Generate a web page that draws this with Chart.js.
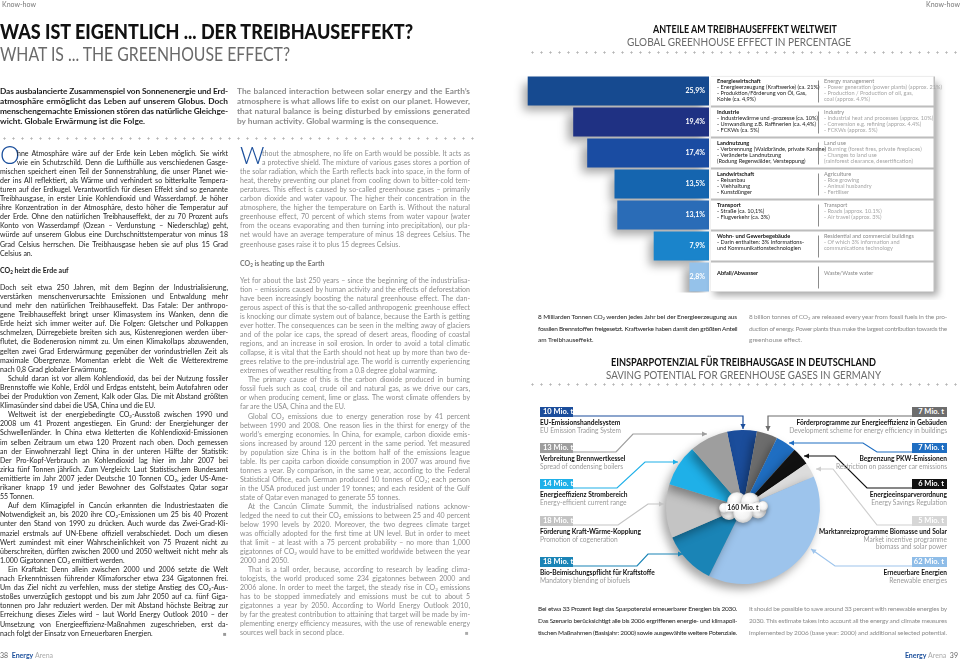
<!DOCTYPE html>
<html lang="de"><head><meta charset="utf-8">
<script src="https://cdn.jsdelivr.net/npm/chart.js@4.4.1/dist/chart.umd.min.js"></script>
<style>
html,body{margin:0;padding:0}
body{width:960px;height:662px;position:relative;overflow:hidden;background:#fff;font-family:Lato,"Noto Sans",sans-serif;color:#1a1a1a}
.a{position:absolute;white-space:nowrap}
.ln{font-size:7px;line-height:9px}
.de{color:#1e1e1e}
.en{color:#8c8c8c}
sub{font-size:65%;vertical-align:-1px;line-height:0}
.dots{position:absolute;height:3px;background-image:radial-gradient(circle,#b4b4b4 0.9px,transparent 1.2px);background-size:9px 3px}
canvas{position:absolute}
svg{position:absolute;left:0;top:0}
</style></head><body>
<canvas id="bars" width="480" height="230" style="left:480px;top:70px"></canvas>
<canvas id="pie" width="200" height="200" style="left:643px;top:407px"></canvas>
<svg id="lines" width="960" height="662"></svg>
<script>
// ---------- DATA ----------
const sectors = ['Energiewirtschaft','Industrie','Landnutzung','Landwirtschaft','Transport','Wohn- und Gewerbegebäude','Abfall/Abwasser'];
const sectorsEN = ['Energy management','Industry','Land use','Agriculture','Transport','Residential and commercial buildings','Waste/Waste water'];
const shares = [25.9, 19.4, 17.4, 13.5, 13.1, 7.9, 2.8];
const shareLabels = ['25,9%','19,4%','17,4%','13,5%','13,1%','7,9%','2,8%'];
const detailsDE = [
  ['- Energieerzeugung (Kraftwerke) (ca. 21%)','- Produktion/Förderung von Öl, Gas,','Kohle (ca. 4,9%)'],
  ['- Industriewärme und -prozesse (ca. 10%)','- Umwandlung z.B. Raffinerien (ca. 4,4%)','- FCKWs (ca. 5%)'],
  ['- Verbrennung (Waldbrände, private Kamine)','- Veränderte Landnutzung','(Rodung Regenwälder, Versteppung)'],
  ['- Reisanbau','- Viehhaltung','- Kunstdünger'],
  ['- Straße (ca. 10,1%)','- Flugverkehr (ca. 3%)'],
  ['- Darin enthalten: 3% Informations-','und Kommunikationstechnologien'],
  []
];
const detailsEN = [
  ['- Power generation (power plants) (approx. 21%)','- Production / Production of oil, gas,','coal (approx. 4.9%)'],
  ['- Industrial heat and processes (approx. 10%)','- Conversion e.g. refining (approx. 4.4%)','- FCKWs (approx. 5%)'],
  ['- Burning (forest fires, private fireplaces)','- Changes to land use','(rainforest clearance, desertification)'],
  ['- Rice growing','- Animal husbandry','- Fertiliser'],
  ['- Roads (approx. 10.1%)','- Air travel (approx. 3%)'],
  ['- Of which 3% information and','communications technology'],
  []
];
const barColors = ['#164a90','#1f3183','#1a4ca2','#1565af','#2a6cb7','#1a84cb','#95c2ea'];

const measures = ['EU-Emissionshandelsystem','Förderprogramme zur Energieeffizienz in Gebäuden','Begrenzung PKW-Emissionen','Energieeinsparverordnung','Marktanreizprogramme Biomasse und Solar','Erneuerbare Energien','Bio-Beimischungspflicht für Kraftstoffe','Förderung Kraft-Wärme-Kopplung','Energieeffizienz Strombereich','Verbreitung Brennwertkessel'];
const measuresEN = [['EU Emission Trading System'],['Development scheme for energy efficiency in buildings'],['Restriction on passenger car emissions'],['Energy Savings Regulation'],['Market incentive programme','biomass and solar power'],['Renewable energies'],['Mandatory blending of biofuels'],['Promotion of cogeneration'],['Energy-efficient current range'],['Spread of condensing boilers']];
const savings = [10, 7, 7, 6, 5, 62, 18, 18, 14, 13];
const savingLabels = ['10 Mio. t','7 Mio. t','7 Mio. t','6 Mio. t','5 Mio. t','62 Mio. t','18 Mio. t','18 Mio. t','14 Mio. t','13 Mio. t'];
const pieColors = ['#1b4d9b','#6d6d6d','#1f6ec2','#111111','#dcdcdc','#9dc4ec','#1a84b6','#c4c4c4','#1fb0e8','#9e9e9e'];
const totalLabel = '160 Mio. t';

// ---------- LAYOUT (callouts) ----------
const callouts = [
  {i:0, side:'L', top:407, path:[[540,416],[743,416],[743,429]]},
  {i:9, side:'L', top:443, path:[[540,452],[616,452],[633,434],[707,434]]},
  {i:8, side:'L', top:479, path:[[540,488],[617,488],[645,462],[678,462]]},
  {i:7, side:'L', top:516, path:[[540,525],[618,525],[648,504],[664,504]]},
  {i:6, side:'L', top:557, path:[[540,566],[637,566],[648,554],[683,554]]},
  {i:1, side:'R', top:407, path:[[947,416],[768,416],[768,431]]},
  {i:2, side:'R', top:443, path:[[947,452],[877,452],[863,443],[789,443]]},
  {i:3, side:'R', top:479, path:[[947,488],[867,488],[835,456],[804,456]]},
  {i:4, side:'R', top:516, path:[[947,525],[877,525],[833,469],[816,469]]},
  {i:5, side:'R', top:557, path:[[947,566],[835,566],[811,549]]}
];

// ---------- helpers ----------
function el(x,y,html,cls,style){const d=document.createElement('div');d.className='a '+(cls||'');d.innerHTML=html;d.style.left=x+'px';d.style.top=y+'px';if(style)Object.assign(d.style,style);document.body.appendChild(d);return d;}
function fit(d,W,justify){const w=d.getBoundingClientRect().width;const t=d.textContent;if(w>W){d.style.letterSpacing=((W-w)/t.length)+'px';}else if(justify){const n=(t.match(/ /g)||[]).length;if(n)d.style.wordSpacing=((W-w)/n)+'px';}}
function fitScale(d,W){const w=d.getBoundingClientRect().width;d.style.transformOrigin='0 0';d.style.transform='scaleX('+(W/w)+')';}
function para(x,top,W,lines,cls,LH,opt){opt=opt||{};lines.forEach((t,i)=>{let ind=0;if(i===0&&opt.indent)ind=opt.indent;if(opt.cap&&i<2)ind=opt.cap;const d=el(x+ind,top+i*LH,t,'ln '+cls,{lineHeight:LH+'px'});if(opt.fs)d.style.fontSize=opt.fs+'px';if(opt.bold)d.style.fontWeight='700';fit(d,W-ind,i<lines.length-1||opt.justLast);});return top+lines.length*LH;}
function dots(x,y,w){const d=document.createElement('div');d.className='dots';d.style.left=x+'px';d.style.top=y+'px';d.style.width=w+'px';document.body.appendChild(d);}

function build(){
// header
el(2,0,'Know-how','',{fontSize:'7px',color:'#777',lineHeight:'9px'});
el(926,0,'Know-how','',{fontSize:'7px',color:'#777',lineHeight:'9px'});
const t1=el(0,20,'WAS IST EIGENTLICH ... DER TREIBHAUSEFFEKT?','',{fontSize:'20px',fontWeight:'900',color:'#111',lineHeight:'22px'});fitScale(t1,413);
const t2=el(0,42,'WHAT IS ... THE GREENHOUSE EFFECT?','',{fontSize:'20px',fontWeight:'400',color:'#6a6a6a',lineHeight:'22px'});fitScale(t2,290);

// intro
para(0,86,228,['Das ausbalancierte Zusammenspiel von Sonnenenergie und Erd-','atmosphäre ermöglicht das Leben auf unserem Globus. Doch','menschengemachte Emissionen stören das natürliche Gleichge-','wicht. Globale Erwärmung ist die Folge.'],'de',10,{fs:8.3,bold:true});
para(237,86,233,['The balanced interaction between solar energy and the Earth\u2019s','atmosphere is what allows life to exist on our planet. However,','that natural balance is being disturbed by emissions generated','by human activity. Global warming is the consequence.'],'en',10,{fs:8.3,bold:true});
dots(0,137,474);

// left column
const LH=9.1;
el(0,142,'O','',{fontSize:'25px',color:'#1b4f9c',lineHeight:'25px',fontWeight:'300'});
let y=para(0,148.5,228,['Ohne Atmosphäre wäre auf der Erde kein Leben möglich. Sie wirkt'.slice(1),'wie ein Schutzschild. Denn die Lufthülle aus verschiedenen Gasge-','mischen speichert einen Teil der Sonnenstrahlung, die unser Planet wie-','der ins All reflektiert, als Wärme und verhindert so bitterkalte Tempera-','turen auf der Erdkugel. Verantwortlich für diesen Effekt sind so genannte','Treibhausgase, in erster Linie Kohlendioxid und Wasserdampf. Je höher','ihre Konzentration in der Atmosphäre, desto höher die Temperatur auf','der Erde. Ohne den natürlichen Treibhauseffekt, der zu 70 Prozent aufs','Konto von Wasserdampf (Ozean – Verdunstung – Niederschlag) geht,','würde auf unserem Globus eine Durchschnittstemperatur von minus 18','Grad Celsius herrschen. Die Treibhausgase heben sie auf plus 15 Grad','Celsius an.'],'de',LH,{cap:17});
el(0,y+8,'CO<sub>2</sub> heizt die Erde auf','ln de',{fontWeight:'700',lineHeight:LH+'px'});
y=y+8+LH+8;
y=para(0,y,228,['Doch seit etwa 250 Jahren, mit dem Beginn der Industrialisierung,','verstärken menschenverursachte Emissionen und Entwaldung mehr','und mehr den natürlichen Treibhauseffekt. Das Fatale: Der anthropo-','gene Treibhauseffekt bringt unser Klimasystem ins Wanken, denn die','Erde heizt sich immer weiter auf. Die Folgen: Gletscher und Polkappen','schmelzen, Dürregebiete breiten sich aus, Küstenregionen werden über-','flutet, die Bodenerosion nimmt zu. Um einen Klimakollaps abzuwenden,','gelten zwei Grad Erderwärmung gegenüber der vorindustriellen Zeit als','maximale Obergrenze. Momentan erlebt die Welt die Wetterextreme','nach 0,8 Grad globaler Erwärmung.'],'de',LH);
y=para(0,y,228,['Schuld daran ist vor allem Kohlendioxid, das bei der Nutzung fossiler','Brennstoffe wie Kohle, Erdöl und Erdgas entsteht, beim Autofahren oder','bei der Produktion von Zement, Kalk oder Glas. Die mit Abstand größten','Klimasünder sind dabei die USA, China und die EU.'],'de',LH,{indent:8});
y=para(0,y,228,['Weltweit ist der energiebedingte CO<sub>2</sub>-Ausstoß zwischen 1990 und','2008 um 41 Prozent angestiegen. Ein Grund: der Energiehunger der','Schwellenländer. In China etwa kletterten die Kohlendioxid-Emissionen','im selben Zeitraum um etwa 120 Prozent nach oben. Doch gemessen','an der Einwohnerzahl liegt China in der unteren Hälfte der Statistik:','Der Pro-Kopf-Verbrauch an Kohlendioxid lag hier im Jahr 2007 bei','zirka fünf Tonnen jährlich. Zum Vergleich: Laut Statistischem Bundesamt','emittierte im Jahr 2007 jeder Deutsche 10 Tonnen CO<sub>2</sub>, jeder US-Ame-','rikaner knapp 19 und jeder Bewohner des Golfstaates Qatar sogar','55 Tonnen.'],'de',LH,{indent:8});
y=para(0,y,228,['Auf dem Klimagipfel in Cancún erkannten die Industriestaaten die','Notwendigkeit an, bis 2020 ihre CO<sub>2</sub>-Emissionen um 25 bis 40 Prozent','unter den Stand von 1990 zu drücken. Auch wurde das Zwei-Grad-Kli-','maziel erstmals auf UN-Ebene offiziell verabschiedet. Doch um diesen','Wert zumindest mit einer Wahrscheinlichkeit von 75 Prozent nicht zu','überschreiten, dürften zwischen 2000 und 2050 weltweit nicht mehr als','1.000 Gigatonnen CO<sub>2</sub> emittiert werden.'],'de',LH,{indent:8});
y=para(0,y,228,['Ein Kraftakt: Denn allein zwischen 2000 und 2006 setzte die Welt','nach Erkenntnissen führender Klimaforscher etwa 234 Gigatonnen frei.','Um das Ziel nicht zu verfehlen, muss der stetige Anstieg des CO<sub>2</sub>-Aus-','stoßes unverzüglich gestoppt und bis zum Jahr 2050 auf ca. fünf Giga-','tonnen pro Jahr reduziert werden. Der mit Abstand höchste Beitrag zur','Erreichung dieses Zieles wird – laut World Energy Outlook 2010 – der','Umsetzung von Energieeffizienz-Maßnahmen zugeschrieben, erst da-','nach folgt der Einsatz von Erneuerbaren Energien.'],'de',LH,{indent:8});
el(223,y-LH,'\u25A0','ln',{color:'#999',fontSize:'6px',lineHeight:LH+'px'});

// middle column
el(240,143,'W','',{fontSize:'24px',color:'#1b4f9c',lineHeight:'24px',fontWeight:'300'});
y=para(240,148.5,230,['thout the atmosphere, no life on Earth would be possible. It acts as','a protective shield. The mixture of various gases stores a portion of','the solar radiation, which the Earth reflects back into space, in the form of','heat, thereby preventing our planet from cooling down to bitter-cold tem-','peratures. This effect is caused by so-called greenhouse gases – primarily','carbon dioxide and water vapour. The higher their concentration in the','atmosphere, the higher the temperature on Earth is. Without the natural','greenhouse effect, 70 percent of which stems from water vapour (water','from the oceans evaporating and then turning into precipitation), our pla-','net would have an average temperature of minus 18 degrees Celsius. The','greenhouse gases raise it to plus 15 degrees Celsius.'],'en',LH,{cap:22});
el(240,y+10,'CO<sub>2</sub> is heating up the Earth','ln en',{fontWeight:'700',lineHeight:LH+'px',color:'#777'});
y=y+10+LH+8.5;
const LH2=9.02;
y=para(240,y,230,['Yet for about the last 250 years – since the beginning of the industrialisa-','tion – emissions caused by human activity and the effects of deforestation','have been increasingly boosting the natural greenhouse effect. The dan-','gerous aspect of this is that the so-called anthropogenic greenhouse effect','is knocking our climate system out of balance, because the Earth is getting','ever hotter. The consequences can be seen in the melting away of glaciers','and of the polar ice caps, the spread of desert areas, flooding of coastal','regions, and an increase in soil erosion. In order to avoid a total climatic','collapse, it is vital that the Earth should not heat up by more than two de-','grees relative to the pre-industrial age. The world is currently experiencing','extremes of weather resulting from a 0.8 degree global warming.'],'en',LH2);
y=para(240,y,230,['The primary cause of this is the carbon dioxide produced in burning','fossil fuels such as coal, crude oil and natural gas, as we drive our cars,','or when producing cement, lime or glass. The worst climate offenders by','far are the USA, China and the EU.'],'en',LH2,{indent:8});
y=para(240,y,230,['Global CO<sub>2</sub> emissions due to energy generation rose by 41 percent','between 1990 and 2008. One reason lies in the thirst for energy of the','world\u2019s emerging economies. In China, for example, carbon dioxide emis-','sions increased by around 120 percent in the same period. Yet measured','by population size China is in the bottom half of the emissions league','table. Its per capita carbon dioxide consumption in 2007 was around five','tonnes a year. By comparison, in the same year, according to the Federal','Statistical Office, each German produced 10 tonnes of CO<sub>2</sub>; each person','in the USA produced just under 19 tonnes; and each resident of the Gulf','state of Qatar even managed to generate 55 tonnes.'],'en',LH2,{indent:8});
y=para(240,y,230,['At the Cancún Climate Summit, the industrialised nations acknow-','ledged the need to cut their CO<sub>2</sub> emissions to between 25 and 40 percent','below 1990 levels by 2020. Moreover, the two degrees climate target','was officially adopted for the first time at UN level. But in order to meet','that limit – at least with a 75 percent probability – no more than 1,000','gigatonnes of CO<sub>2</sub> would have to be emitted worldwide between the year','2000 and 2050.'],'en',LH2,{indent:8});
y=para(240,y,230,['That is a tall order, because, according to research by leading clima-','tologists, the world produced some 234 gigatonnes between 2000 and','2006 alone. In order to meet the target, the steady rise in CO<sub>2</sub> emissions','has to be stopped immediately and emissions must be cut to about 5','gigatonnes a year by 2050. According to World Energy Outlook 2010,','by far the greatest contribution to attaining that target will be made by im-','plementing energy efficiency measures, with the use of renewable energy','sources well back in second place.'],'en',LH2,{indent:8});
el(465,y-LH2,'\u25A0','ln',{color:'#aaa',fontSize:'6px',lineHeight:LH2+'px'});

// footer
el(0,651,'38&nbsp; <b style="color:#1b4f9c">Energy</b> <span style="color:#aaa">Arena</span>','',{fontSize:'7px',color:'#666',lineHeight:'9px'});
const f2=el(0,651,'<b style="color:#1b4f9c">Energy</b> <span style="color:#aaa">Arena</span>&nbsp; 39','',{fontSize:'7px',color:'#666',lineHeight:'9px'});
f2.style.left=(958-f2.getBoundingClientRect().width)+'px';

// right titles
const r1=el(653,23,'ANTEILE AM TREIBHAUSEFFEKT WELTWEIT','',{fontSize:'10.5px',fontWeight:'700',color:'#111',lineHeight:'12px'});fitScale(r1,184);
const r2=el(627,36,'GLOBAL GREENHOUSE EFFECT IN PERCENTAGE','',{fontSize:'10.5px',color:'#6a6a6a',lineHeight:'12px'});fitScale(r2,224);
dots(528,51,432);
const r3=el(611,355,'EINSPARPOTENZIAL FÜR TREIBHAUSGASE IN DEUTSCHLAND','',{fontSize:'12px',fontWeight:'700',color:'#111',lineHeight:'14px'});fitScale(r3,265);
const r4=el(606,368,'SAVING POTENTIAL FOR GREENHOUSE GASES IN GERMANY','',{fontSize:'12px',color:'#6a6a6a',lineHeight:'14px'});fitScale(r4,275);
dots(528,383,432);

// notes
para(538,311,199,['8 Milliarden Tonnen CO<sub>2</sub> werden jedes Jahr bei der Energieerzeugung aus','fossilen Brennstoffen freigesetzt. Kraftwerke haben damit den größten Anteil','am Treibhauseffekt.'],'de',11.5,{fs:6.5});
para(749,311,198,['8 billion tonnes of CO<sub>2</sub> are released every year from fossil fuels in the pro-','duction of energy. Power plants thus make the largest contribution towards the','greenhouse effect.'],'en',11.5,{fs:6.5});
para(538,603,199,['Bei etwa 33 Prozent liegt das Sparpotenzial erneuerbarer Energien bis 2030.','Das Szenario berücksichtigt alle bis 2006 ergriffenen energie- und klimapoli-','tischen Maßnahmen (Basisjahr: 2000) sowie ausgewählte weitere Potenziale.'],'de',12,{fs:6.5});
para(749,603,198,['It should be possible to save around 33 percent with renewable energies by','2030. This estimate takes into account all the energy and climate measures','implemented by 2006 (base year: 2000) and additional selected potential.'],'en',12,{fs:6.5});

// callouts
const svg=document.getElementById('lines');const NS='http://www.w3.org/2000/svg';
callouts.forEach(c=>{
  const col=pieColors[c.i];
  const lc=col==='#dcdcdc'?'#cfcfcf':col;
  const pl=document.createElementNS(NS,'polyline');
  pl.setAttribute('points',c.path.map(p=>p.join(',')).join(' '));
  pl.setAttribute('fill','none');pl.setAttribute('stroke',lc);pl.setAttribute('stroke-width','1.2');
  svg.appendChild(pl);
  const a=c.path[c.path.length-1],b=c.path[c.path.length-2];
  const dx=a[0]-b[0],dy=a[1]-b[1],L=Math.hypot(dx,dy),ux=dx/L,uy=dy/L;
  const s=5,w=2.6;
  const pg=document.createElementNS(NS,'polygon');
  pg.setAttribute('points',[[a[0],a[1]],[a[0]-ux*s-uy*w,a[1]-uy*s+ux*w],[a[0]-ux*s+uy*w,a[1]-uy*s-ux*w]].map(p=>p.join(',')).join(' '));
  pg.setAttribute('fill',lc);svg.appendChild(pg);
  const bw=c.side==='L'?33:35;
  const bx=c.side==='L'?540:947-bw;
  const bg=col==='#dcdcdc'?'#d6d6d6':(c.i===5?'#8fbde8':col);
  el(bx,c.top,savingLabels[c.i],'',{width:bw+'px',height:'9.5px',background:bg,color:'#fff',fontWeight:'700',fontSize:'7.5px',lineHeight:'10px',textAlign:c.side==='L'?'left':'right',boxSizing:'border-box',paddingLeft:c.side==='L'?'3px':'0',paddingRight:c.side==='R'?'3px':'0'});
  const tx=el(0,c.top+11,measures[c.i],'',{fontSize:'6.6px',fontWeight:'700',color:'#111',lineHeight:'8px'});
  const en=measuresEN[c.i].map((t,k)=>el(0,c.top+18.5+k*7.5,t,'',{fontSize:'6.6px',color:'#9a9a9a',lineHeight:'8px'}));
  [tx,...en].forEach(d=>{if(c.side==='L')d.style.left='540px';else d.style.left=(947-d.getBoundingClientRect().width)+'px';});
});
}

// ---------- CHARTS ----------
const shadowPlugin = (opts)=>({id:'shadow'+Math.random().toString(36).slice(2),beforeDatasetsDraw(ch){const c=ch.ctx;c.save();c.shadowColor=opts.color;c.shadowBlur=opts.blur;c.shadowOffsetX=opts.x;c.shadowOffsetY=opts.y;},afterDatasetsDraw(ch){ch.ctx.restore();}});

const barText={id:'barText',afterDraw(ch){
  const c=ch.ctx,meta=ch.getDatasetMeta(0);const els=meta.data;
  const px=els[0].base+2,pw=224;
  const top=els[0].y-els[0].height/2,bot=els[els.length-1].y+els[els.length-1].height/2;
  c.save();
  c.shadowColor='rgba(0,0,0,0.35)';c.shadowBlur=7;c.shadowOffsetX=3;c.shadowOffsetY=5;
  c.fillStyle='#bdbdbd';c.fillRect(px,top,pw,bot-top);
  c.restore();
  els.forEach((b,i)=>{
    const t=b.y-b.height/2,h=b.height;
    c.fillStyle='#fff';c.fillRect(px,t,pw-1.5,h);
    c.strokeStyle='#8c8c8c';c.lineWidth=1;c.beginPath();c.moveTo(px+107.5,t+4);c.lineTo(px+107.5,t+h-3);c.stroke();
    c.textBaseline='middle';c.textAlign='left';
    const single=detailsDE[i].length===0;
    const y0=single?t+11:t+5;
    c.font='700 5.6px Lato';c.fillStyle='#111';c.fillText(sectors[i],px+6,y0);
    c.font='400 5.6px Lato';c.fillStyle='#222';
    detailsDE[i].forEach((s,k)=>c.fillText(s,px+6,y0+5.9*(k+1)));
    c.font='400 5.6px Lato';c.fillStyle='#888';c.fillText(sectorsEN[i],px+113,y0);
    c.fillStyle='#a5a5a5';
    detailsEN[i].forEach((s,k)=>c.fillText(s,px+113,y0+5.9*(k+1)));
    c.font='700 7px Lato';c.fillStyle='#fff';c.textAlign='right';
    c.fillText(shareLabels[i],b.base-4,b.y);
  });
}};

const cloud={id:'cloud',afterDraw(ch){
  const a=ch.getDatasetMeta(0).data[0];const cx=a.x,cy=a.y;const c=ch.ctx;
  const circles=[[-14,4,9],[-6,-5,10],[7,-5,9.5],[15,3,8.5],[0,6,10],[-19,1,5],[20,-1,5]];
  c.save();c.shadowColor='rgba(0,0,0,0.35)';c.shadowBlur=5;c.shadowOffsetY=2;
  circles.forEach(([dx,dy,r])=>{const g=c.createRadialGradient(cx+dx-r*0.3,cy+dy-r*0.4,r*0.1,cx+dx,cy+dy,r);g.addColorStop(0,'#ffffff');g.addColorStop(0.7,'#f2f2f2');g.addColorStop(1,'#c9c9c9');c.fillStyle=g;c.beginPath();c.arc(cx+dx,cy+dy,r,0,Math.PI*2);c.fill();});
  c.restore();
  c.fillStyle='#fff';c.fillRect(cx-17,cy-3.5,34,8);
  c.font='700 6.8px Lato';c.fillStyle='#222';c.textAlign='center';c.textBaseline='middle';c.fillText(totalLabel,cx,cy+0.5);
}};

function charts(){
new Chart(document.getElementById('bars'),{type:'bar',
  data:{labels:sectors,datasets:[{data:shares,backgroundColor:barColors,borderWidth:0,barPercentage:0.935,categoryPercentage:1}]},
  options:{indexAxis:'y',responsive:false,animation:false,events:[],
    layout:{padding:{left:19,right:251,top:5.5,bottom:7.5}},
    scales:{x:{display:false,reverse:true,min:0,max:30},y:{display:false}},
    plugins:{legend:{display:false},tooltip:{enabled:false}}},
  plugins:[shadowPlugin({color:'rgba(0,0,0,0.35)',blur:9,x:-5,y:6}),barText]});
new Chart(document.getElementById('pie'),{type:'pie',
  data:{labels:measures,datasets:[{data:savings,backgroundColor:pieColors,borderWidth:0}]},
  options:{responsive:false,animation:false,events:[],rotation:-12,layout:{padding:23},
    plugins:{legend:{display:false},tooltip:{enabled:false}}},
  plugins:[shadowPlugin({color:'rgba(0,0,0,0.35)',blur:10,x:-4,y:5}),cloud]});
}
(document.fonts&&document.fonts.ready?document.fonts.ready:Promise.resolve()).then(()=>{build();charts();});
</script>
</body></html>
